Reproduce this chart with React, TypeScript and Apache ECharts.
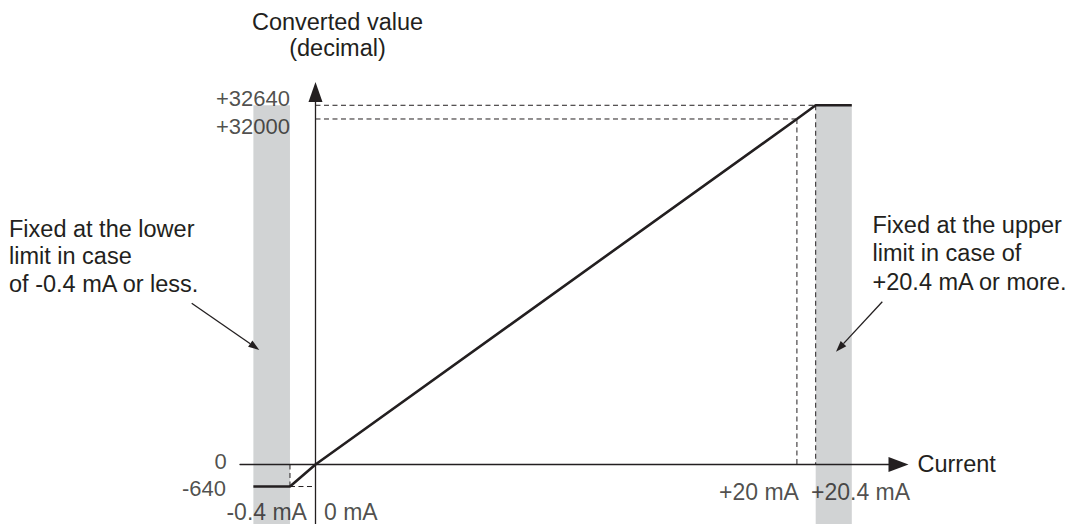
import React, { useEffect, useRef } from "react";
import * as echarts from "echarts";

// ---- Data (real units: mA and decimal counts) ----
const CURRENT_TICKS = [-0.4, 0, 20, 20.4];
const CURRENT_TICK_LABELS = ["-0.4 mA", "0 mA", "+20 mA", "+20.4 mA"];
const VALUE_TICKS = [-640, 0, 32000, 32640];
const VALUE_TICK_LABELS = ["-640", "0", "+32000", "+32640"];

const CURVE_CURRENT = [-1, -0.4, 0, 20, 20.4, 21];
const CURVE_VALUE = [-640, -640, 0, 32000, 32640, 32640];

const FIXED_BANDS = [
  [-1, -0.4],
  [20.4, 21],
];
const BAND_TOP_VALUE = 32640;

// ---- Schematic (broken) axis definition: real value -> axis units ----
const X_KNOTS_REAL = [-1, -0.4, 0, 20, 20.4, 21];
const X_KNOTS_AXIS = [-2.58, -1.06, 0, 20, 20.78, 22.28];
const Y_KNOTS_REAL = [-640, 0, 32000, 32640];
const Y_KNOTS_AXIS = [-2040, 0, 32000, 33270];

const X_MIN = -3.136;
const X_MAX = 24.22;
const Y_MIN = -5511;
const Y_MAX = 34500;

function piecewise(v: number, from: number[], to: number[]) {
  let i = 0;
  while (i < from.length - 2 && v > from[i + 1]) i++;
  const t = (v - from[i]) / (from[i + 1] - from[i]);
  return to[i] + t * (to[i + 1] - to[i]);
}
const sx = (v: number) => piecewise(v, X_KNOTS_REAL, X_KNOTS_AXIS);
const sy = (v: number) => piecewise(v, Y_KNOTS_REAL, Y_KNOTS_AXIS);

const INK = "#231f20";
const GRAY = "#d1d3d4";
const FONT = "'Liberation Sans', Arial, Helvetica, sans-serif";

// label placement styles (per tick)
const X_LABEL_STYLE = [
  { align: "right", offset: [17, 47.5] },
  { align: "left", offset: [8.5, 47.5] },
  { align: "right", offset: [2, 28] },
  { align: "left", offset: [-4.7, 28] },
];
const Y_LABEL_STYLE = [
  { align: "right", offset: [-89.5, 1.5] },
  { align: "right", offset: [-88.8, -2.8] },
  { align: "right", offset: [-25.5, 8] },
  { align: "right", offset: [-25.5, -7] },
];

function arrowGraphic(x1: number, y1: number, x2: number, y2: number) {
  const dx = x2 - x1;
  const dy = y2 - y1;
  const len = Math.sqrt(dx * dx + dy * dy);
  const ux = dx / len;
  const uy = dy / len;
  const hl = 11;
  const hw = 3.8;
  const bx = x2 - ux * hl;
  const by = y2 - uy * hl;
  return [
    {
      type: "line",
      z: 100,
      shape: { x1, y1, x2: bx, y2: by },
      style: { stroke: INK, lineWidth: 1.3 },
      silent: true,
    },
    {
      type: "polygon",
      z: 100,
      shape: {
        points: [
          [x2, y2],
          [bx - uy * hw, by + ux * hw],
          [bx + uy * hw, by - ux * hw],
        ],
      },
      style: { fill: INK },
      silent: true,
    },
  ];
}

export default function App() {
  const ref = useRef<HTMLDivElement>(null);

  useEffect(() => {
    if (!ref.current) return;
    const chart = echarts.init(ref.current, undefined, { renderer: "svg" });

    const guideSegments: number[][][] = [
      [[CURRENT_TICKS[0], VALUE_TICKS[1]], [CURRENT_TICKS[0], VALUE_TICKS[0]]],
      [[CURRENT_TICKS[0], VALUE_TICKS[0]], [CURRENT_TICKS[1], VALUE_TICKS[0]]],
      [[CURRENT_TICKS[1], VALUE_TICKS[2]], [CURRENT_TICKS[2], VALUE_TICKS[2]]],
      [[CURRENT_TICKS[2], VALUE_TICKS[2]], [CURRENT_TICKS[2], VALUE_TICKS[1]]],
      [[CURRENT_TICKS[1], VALUE_TICKS[3]], [CURRENT_TICKS[3], VALUE_TICKS[3]]],
      [[CURRENT_TICKS[3], VALUE_TICKS[3]], [CURRENT_TICKS[3], VALUE_TICKS[1]]],
    ];

    const labelStyleBase = {
      show: true,
      position: "inside",
      verticalAlign: "middle",
      color: INK,
      fontFamily: FONT,
    };

    const tickLabelData = [
      ...CURRENT_TICKS.map((c, i) => ({
        value: [sx(c), 0],
        label: {
          ...labelStyleBase,
          fontSize: 23,
          align: X_LABEL_STYLE[i].align,
          offset: X_LABEL_STYLE[i].offset,
          formatter: CURRENT_TICK_LABELS[i],
        },
      })),
      ...VALUE_TICKS.map((v, i) => ({
        value: [0, sy(v)],
        label: {
          ...labelStyleBase,
          fontSize: 22,
          align: Y_LABEL_STYLE[i].align,
          offset: Y_LABEL_STYLE[i].offset,
          formatter: VALUE_TICK_LABELS[i],
        },
      })),
    ];

    const option: any = {
      animation: false,
      backgroundColor: "#ffffff",
      grid: { left: 240, right: 174.5, top: 92, bottom: 0, containLabel: false },
      xAxis: {
        type: "value",
        min: X_MIN,
        max: X_MAX,
        z: 5,
        name: "Current",
        nameLocation: "end",
        nameGap: 19,
        nameTextStyle: { color: INK, fontFamily: FONT, fontSize: 23.5, padding: [0, 0, 5, 0] },
        axisLine: {
          onZero: true,
          symbol: ["none", "triangle"],
          symbolSize: [15, 20],
          lineStyle: { color: INK, width: 1.3 },
        },
        axisTick: { show: false },
        axisLabel: { show: false },
        splitLine: { show: false },
      },
      yAxis: {
        type: "value",
        min: Y_MIN,
        max: Y_MAX,
        z: 5,
        name: "Converted value\n(decimal)",
        nameLocation: "end",
        nameGap: 31,
        nameTextStyle: {
          color: INK,
          fontFamily: FONT,
          fontSize: 23.5,
          lineHeight: 26,
          align: "center",
          padding: [0, 0, 0, 44],
        },
        axisLine: {
          onZero: true,
          symbol: ["none", "triangle"],
          symbolSize: [14, 20],
          lineStyle: { color: INK, width: 1.3 },
        },
        axisTick: { show: false },
        axisLabel: { show: false },
        splitLine: { show: false },
      },
      series: [
        {
          type: "custom",
          name: "fixed range",
          z: 1,
          silent: true,
          clip: false,
          data: FIXED_BANDS.map(([a, b]) => [sx(a), sx(b), sy(BAND_TOP_VALUE)]),
          encode: { x: [0, 1], y: 2 },
          renderItem: (params: any, api: any) => {
            const p1 = api.coord([api.value(0), api.value(2)]);
            const p2 = api.coord([api.value(1), Y_MIN]);
            return {
              type: "rect",
              shape: { x: p1[0], y: p1[1], width: p2[0] - p1[0], height: p2[1] - p1[1] },
              style: { fill: GRAY },
            };
          },
        },
        ...guideSegments.map((seg) => ({
          type: "line",
          z: 2,
          silent: true,
          symbol: "none",
          data: seg.map(([c, v]) => [sx(c), sy(v)]),
          lineStyle: { color: INK, width: 1, type: [5, 3.5] },
        })),
        {
          type: "line",
          name: "converted value",
          z: 3,
          silent: true,
          symbol: "none",
          data: CURVE_CURRENT.map((c, i) => [sx(c), sy(CURVE_VALUE[i])]),
          lineStyle: { color: INK, width: 2.6 },
        },
        {
          type: "scatter",
          z: 6,
          silent: true,
          symbolSize: 1,
          itemStyle: { color: "transparent" },
          data: tickLabelData,
        },
      ],
      graphic: [
        {
          type: "text",
          left: 9,
          top: 215,
          z: 100,
          silent: true,
          style: {
            text: "Fixed at the lower\nlimit in case\nof -0.4 mA or less.",
            fill: INK,
            font: `23.5px ${FONT}`,
            lineHeight: 27.5,
          },
        },
        {
          type: "text",
          left: 872.5,
          top: 210.5,
          z: 100,
          silent: true,
          style: {
            text: "Fixed at the upper\nlimit in case of\n+20.4 mA or more.",
            fill: INK,
            font: `23.5px ${FONT}`,
            lineHeight: 28.5,
          },
        },
        ...arrowGraphic(191.7, 303.3, 259.3, 350),
        ...arrowGraphic(882.3, 301.7, 836, 351.7),
      ],
    };

    chart.setOption(option);
    return () => chart.dispose();
  }, []);

  return (
    <div
      ref={ref}
      style={{ position: "absolute", left: 0, top: 0, width: 1073, height: 524, background: "#fff" }}
    />
  );
}
